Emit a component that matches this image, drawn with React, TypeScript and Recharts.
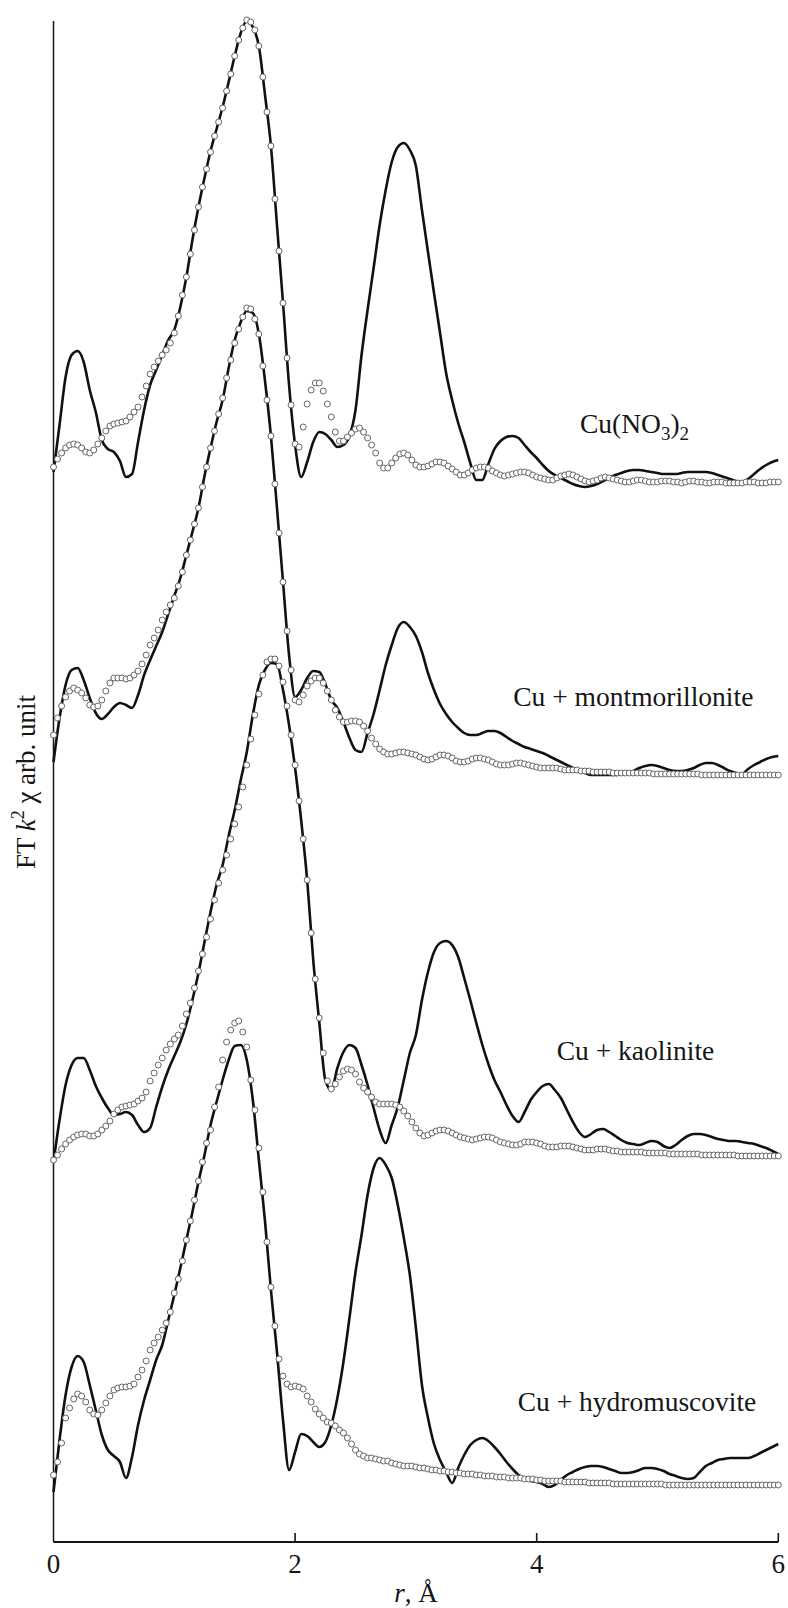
import React from 'react';
import { LineChart, Line, XAxis, YAxis, ReferenceLine, ReferenceDot } from 'recharts';

const FONT = '"Liberation Serif", "Times New Roman", serif';
const INK = '#161616';

// r, Å sampling grid of the measured curves (solid lines)
const R = [
  0, 0.05, 0.1, 0.15, 0.2, 0.25, 0.3, 0.35, 0.4, 0.45,
  0.5, 0.55, 0.6, 0.65, 0.7, 0.75, 0.8, 0.85, 0.9, 0.95,
  1, 1.05, 1.1, 1.15, 1.2, 1.25, 1.3, 1.35, 1.4, 1.45,
  1.5, 1.55, 1.6, 1.65, 1.7, 1.75, 1.8, 1.85, 1.9, 1.95,
  2, 2.05, 2.1, 2.15, 2.2, 2.25, 2.3, 2.35, 2.4, 2.45,
  2.5, 2.55, 2.6, 2.65, 2.7, 2.75, 2.8, 2.85, 2.9, 2.95,
  3, 3.05, 3.1, 3.15, 3.2, 3.25, 3.3, 3.35, 3.4, 3.45,
  3.5, 3.55, 3.6, 3.65, 3.7, 3.75, 3.8, 3.85, 3.9, 3.95,
  4, 4.05, 4.1, 4.15, 4.2, 4.25, 4.3, 4.35, 4.4, 4.45,
  4.5, 4.55, 4.6, 4.65, 4.7, 4.75, 4.8, 4.85, 4.9, 4.95,
  5, 5.05, 5.1, 5.15, 5.2, 5.25, 5.3, 5.35, 5.4, 5.45,
  5.5, 5.55, 5.6, 5.65, 5.7, 5.75, 5.8, 5.85, 5.9, 5.95,
  6,
];

// r, Å grid of the fitted curves (open circles)
const R_FIT = [
  0, 0.033, 0.067, 0.1, 0.133, 0.167, 0.2, 0.233, 0.267, 0.3, 0.333, 0.367, 0.4, 0.433, 0.467,
  0.5, 0.533, 0.567, 0.6, 0.633, 0.667, 0.7, 0.733, 0.767, 0.8, 0.833, 0.867, 0.9, 0.933, 0.967,
  1, 1.033, 1.067, 1.1, 1.133, 1.167, 1.2, 1.233, 1.267, 1.3, 1.333, 1.367, 1.4, 1.433, 1.467,
  1.5, 1.533, 1.567, 1.6, 1.633, 1.667, 1.7, 1.733, 1.767, 1.8, 1.833, 1.867, 1.9, 1.933, 1.967,
  2, 2.033, 2.067, 2.1, 2.133, 2.167, 2.2, 2.233, 2.267, 2.3, 2.333, 2.367, 2.4, 2.433, 2.467,
  2.5, 2.533, 2.567, 2.6, 2.633, 2.667, 2.7, 2.733, 2.767, 2.8, 2.833, 2.867, 2.9, 2.933, 2.967,
  3, 3.033, 3.067, 3.1, 3.133, 3.167, 3.2, 3.233, 3.267, 3.3, 3.333, 3.367, 3.4, 3.433, 3.467,
  3.5, 3.533, 3.567, 3.6, 3.633, 3.667, 3.7, 3.733, 3.767, 3.8, 3.833, 3.867, 3.9, 3.933, 3.967,
  4, 4.033, 4.067, 4.1, 4.133, 4.167, 4.2, 4.233, 4.267, 4.3, 4.333, 4.367, 4.4, 4.433, 4.467,
  4.5, 4.533, 4.567, 4.6, 4.633, 4.667, 4.7, 4.733, 4.767, 4.8, 4.833, 4.867, 4.9, 4.933, 4.967,
  5, 5.033, 5.067, 5.1, 5.133, 5.167, 5.2, 5.233, 5.267, 5.3, 5.333, 5.367, 5.4, 5.433, 5.467,
  5.5, 5.533, 5.567, 5.6, 5.633, 5.667, 5.7, 5.733, 5.767, 5.8, 5.833, 5.867, 5.9, 5.933, 5.967,
  6,
];

// Cu(NO3)2 — experiment (solid) and fit (circles), stacked arb. units
const S1 = [
  1070, 1117, 1165, 1187, 1191, 1180, 1152, 1130, 1102, 1093,
  1090, 1081, 1065, 1068, 1100, 1132, 1157, 1172, 1187, 1202,
  1212, 1235, 1265, 1302, 1335, 1364, 1391, 1413, 1435, 1460,
  1486, 1509, 1521, 1515, 1496, 1448, 1396, 1317, 1239, 1157,
  1097, 1065, 1080, 1100, 1110, 1108, 1102, 1095, 1097, 1106,
  1132, 1187, 1232, 1274, 1317, 1352, 1380, 1395, 1399, 1392,
  1376, 1332, 1290, 1249, 1209, 1169, 1142, 1119, 1100, 1079,
  1062, 1062, 1078, 1093, 1101, 1105, 1106, 1104, 1097, 1090,
  1084, 1077, 1071, 1067, 1064, 1061, 1058, 1056, 1055, 1056,
  1058, 1061, 1064, 1067, 1069, 1071, 1072, 1072, 1071, 1070,
  1069, 1068, 1068, 1068, 1069, 1070, 1070, 1070, 1070, 1069,
  1067, 1065, 1063, 1061, 1060, 1063, 1068, 1073, 1077, 1080,
  1082,
];
const F1 = [
  1075, 1083, 1089, 1094, 1097, 1098, 1097, 1094, 1090, 1089, 1092, 1098, 1104, 1111, 1116,
  1118, 1119, 1120, 1121, 1125, 1130, 1135, 1145, 1156, 1168, 1175, 1181, 1187, 1192, 1199,
  1209, 1226, 1247, 1265, 1288, 1312, 1335, 1355, 1373, 1390, 1406, 1420, 1434, 1451, 1468,
  1486, 1502, 1514, 1522, 1520, 1512, 1496, 1465, 1430, 1396, 1343, 1291, 1239, 1184, 1137,
  1098, 1095, 1115, 1138, 1152, 1159, 1159, 1151, 1138, 1125, 1110, 1101, 1101, 1105, 1109,
  1113, 1114, 1110, 1104, 1097, 1089, 1079, 1074, 1074, 1079, 1084, 1088, 1089, 1087, 1082,
  1077, 1075, 1075, 1076, 1078, 1080, 1080, 1079, 1076, 1073, 1070, 1067, 1067, 1069, 1072,
  1074, 1075, 1075, 1074, 1071, 1069, 1067, 1066, 1067, 1068, 1069, 1070, 1070, 1069, 1067,
  1065, 1064, 1063, 1062, 1062, 1064, 1066, 1067, 1068, 1067, 1065, 1063, 1061, 1060, 1061,
  1062, 1064, 1065, 1064, 1063, 1062, 1061, 1060, 1060, 1061, 1062, 1062, 1061, 1060, 1060,
  1060, 1061, 1061, 1061, 1060, 1060, 1059, 1060, 1061, 1061, 1060, 1060, 1059, 1059, 1060,
  1060, 1060, 1059, 1059, 1059, 1059, 1059, 1060, 1060, 1060, 1059, 1059, 1059, 1060, 1060,
  1060,
];

// Cu + montmorillonite
const S2 = [
  780, 824, 857, 872, 874, 862, 844, 829, 823, 828,
  835, 839, 837, 834, 847, 867, 882, 896, 910, 928,
  946, 964, 987, 1010, 1034, 1066, 1094, 1120, 1142, 1174,
  1202, 1220, 1231, 1229, 1208, 1162, 1106, 1034, 960, 887,
  845, 852, 864, 871, 870, 858, 842, 834, 820, 804,
  792, 790, 809, 828, 852, 877, 897, 914, 920, 915,
  906, 890, 869, 852, 838, 828, 820, 814, 809, 807,
  807, 809, 811, 811, 809, 805, 801, 798, 795, 793,
  791, 789, 786, 783, 780, 777, 774, 771, 769, 767,
  767, 767, 767, 767, 768, 769, 771, 774, 776, 777,
  776, 774, 772, 771, 771, 772, 774, 777, 779, 779,
  777, 774, 771, 769, 768, 773, 777, 780, 783, 785,
  786,
];
const F2 = [
  807, 824, 836, 845, 851, 854, 852, 849, 844, 837, 835, 836, 842, 851, 859,
  864, 864, 864, 863, 864, 867, 871, 878, 887, 897, 904, 912, 922, 930, 937,
  944, 956, 970, 987, 1002, 1018, 1034, 1055, 1075, 1094, 1111, 1128, 1144, 1164, 1182,
  1199, 1213, 1225, 1234, 1233, 1223, 1208, 1176, 1142, 1106, 1058, 1009, 960, 911, 872,
  842, 840, 847, 856, 861, 864, 864, 859, 851, 842, 832, 825, 820, 820, 821,
  821, 820, 816, 811, 804, 798, 793, 790, 788, 788, 789, 790, 790, 789, 788,
  787, 785, 783, 782, 783, 785, 787, 787, 786, 784, 781, 780, 780, 781, 783,
  784, 784, 783, 782, 780, 778, 777, 777, 777, 778, 779, 779, 778, 777, 776,
  775, 774, 774, 774, 774, 774, 773, 772, 772, 772, 772, 771, 771, 771, 770,
  770, 770, 770, 770, 769, 769, 769, 769, 769, 769, 769, 769, 769, 769, 768,
  768, 768, 768, 768, 768, 768, 768, 768, 768, 768, 768, 767, 767, 767, 767,
  767, 767, 767, 767, 767, 767, 767, 767, 767, 767, 767, 767, 767, 767, 767,
  767,
];

// Cu + kaolinite
const S3 = [
  380, 422, 457, 477, 484, 484, 472, 456, 444, 434,
  427, 428, 430, 427, 417, 410, 414, 435, 455, 472,
  486, 500, 518, 542, 569, 600, 630, 657, 677, 706,
  732, 762, 790, 827, 857, 872, 879, 878, 852, 817,
  774, 722, 662, 582, 520, 462, 452, 474, 490, 497,
  494, 477, 457, 434, 412, 399, 417, 435, 462, 489,
  507, 542, 570, 590, 599, 601, 597, 585, 564, 542,
  519, 497, 478, 462, 450, 437, 426, 420, 430, 442,
  450, 456, 458, 452, 444, 432, 420, 410, 405, 408,
  412, 413, 410, 406, 402, 399, 398, 397, 399, 401,
  400, 396, 394, 397, 402, 406, 408, 408, 407, 405,
  403, 402, 401, 401, 400, 399, 398, 396, 394, 391,
  388,
];
const F3 = [
  382, 387, 393, 398, 402, 405, 407, 408, 408, 406, 406, 408, 412, 416, 421,
  428, 432, 435, 436, 437, 438, 441, 444, 450, 461, 469, 477, 484, 492, 498,
  503, 507, 516, 528, 539, 554, 571, 588, 605, 623, 642, 659, 672, 687, 703,
  718, 735, 755, 777, 803, 827, 848, 867, 880, 883, 883, 876, 860, 836, 807,
  777, 741, 703, 662, 609, 563, 524, 489, 461, 453, 458, 465, 471, 473, 472,
  468, 460, 454, 450, 445, 440, 438, 438, 438, 438, 437, 435, 431, 426, 420,
  414, 409, 406, 407, 409, 411, 412, 412, 411, 409, 407, 405, 404, 403, 402,
  403, 404, 405, 405, 404, 402, 400, 399, 398, 397, 397, 398, 400, 400, 400,
  399, 398, 396, 395, 395, 395, 396, 396, 396, 395, 394, 393, 392, 392, 392,
  393, 393, 393, 392, 391, 391, 390, 390, 390, 390, 390, 390, 389, 389, 389,
  389, 389, 389, 388, 388, 388, 388, 388, 388, 388, 388, 387, 387, 387, 387,
  387, 387, 387, 387, 387, 386, 386, 386, 386, 386, 386, 386, 386, 386, 386,
  386,
];

// Cu + hydromuscovite
const S4 = [
  50, 102, 147, 175, 186, 180, 157, 132, 107, 92,
  86, 80, 64, 85, 117, 142, 162, 182, 197, 222,
  247, 274, 302, 330, 360, 387, 417, 440, 462, 482,
  496, 497, 482, 442, 382, 322, 252, 190, 122, 72,
  90, 108, 106, 100, 95, 100, 117, 144, 180, 224,
  270, 307, 347, 374, 384, 377, 364, 337, 304, 267,
  214, 157, 124, 98, 82, 70, 59, 74, 87, 97,
  102, 104, 101, 95, 88, 80, 73, 67, 63, 61,
  60, 58, 55, 57, 62, 67, 70, 73, 75, 76,
  76, 75, 73, 71, 69, 69, 70, 72, 74, 74,
  73, 71, 68, 66, 64, 63, 64, 70, 76, 79,
  82, 83, 84, 84, 84, 84, 86, 89, 92, 95,
  98,
];
const F4 = [
  67, 80, 99, 124, 134, 143, 148, 146, 140, 132, 128, 127, 132, 139, 146,
  152, 154, 155, 155, 156, 158, 165, 172, 181, 192, 199, 205, 212, 219, 230,
  249, 263, 281, 302, 321, 342, 361, 380, 399, 412, 435, 455, 482, 500, 512,
  519, 521, 510, 495, 462, 432, 394, 350, 300, 255, 216, 183, 166, 158, 155,
  156, 155, 153, 146, 140, 133, 128, 124, 120, 119, 116, 112, 109, 104, 98,
  92, 88, 86, 84, 84, 83, 82, 81, 81, 79, 78, 77, 76, 76, 76,
  75, 74, 74, 73, 72, 72, 71, 71, 70, 70, 69, 69, 68, 68, 68,
  67, 67, 66, 66, 66, 65, 65, 65, 64, 64, 64, 64, 63, 63, 63,
  62, 62, 61, 61, 61, 61, 61, 60, 60, 60, 60, 60, 60, 59, 59,
  59, 59, 59, 59, 58, 58, 58, 58, 58, 58, 58, 58, 58, 58, 58,
  58, 58, 57, 57, 57, 57, 57, 57, 57, 57, 57, 57, 57, 57, 57,
  57, 57, 57, 57, 57, 57, 57, 57, 57, 57, 57, 57, 57, 57, 57,
  57,
];

const X_TICKS = [0, 2, 4, 6];
const LABEL_TEXT = ['Cu(NO3)2', 'Cu + montmorillonite', 'Cu + kaolinite', 'Cu + hydromuscovite'];
const LABEL_R = [4.358, 3.806, 4.166, 3.843];
const LABEL_V = [1109, 836, 482, 131];
const Y_MAX = 1530;
const Y_AXIS_TOP = 1521;

const SOLID_KEYS = ['s1', 's2', 's3', 's4'];
const FIT_KEYS = ['f1', 'f2', 'f3', 'f4'];

const rows = R.map((r, i) => ({ r, s1: S1[i], s2: S2[i], s3: S3[i], s4: S4[i] }));
const fitRows = R_FIT.map((r, i) => ({ r, f1: F1[i], f2: F2[i], f3: F3[i], f4: F4[i] }));

const renderFormula = (text: string) => {
  const parts = text.split(/(\d)/).filter((p) => p !== '');
  return parts.map((part, i) => {
    const isDigit = /\d/.test(part);
    const prevDigit = i > 0 && /\d/.test(parts[i - 1]);
    if (isDigit) {
      return (
        <tspan key={i} dy={prevDigit ? 0 : 7} fontSize={19}>{part}</tspan>
      );
    }
    return (
      <tspan key={i} dy={prevDigit ? -7 : 0}>{part}</tspan>
    );
  });
};

const XTick = (props: any) => {
  const { x, y, payload } = props;
  return (
    <g>
      {payload.value !== 0 && (
        <line x1={x} y1={y} x2={x} y2={y - 9} stroke={INK} strokeWidth={1.6} />
      )}
      <text x={x} y={y + 31} textAnchor="middle" fontFamily={FONT} fontSize={27} fill={INK}>
        {payload.value}
      </text>
    </g>
  );
};

const XLabel = (props: any) => {
  const vb = props.viewBox || {};
  return (
    <text x={vb.x + vb.width / 2} y={vb.y + 60} textAnchor="middle" fontFamily={FONT} fontSize={27} fill={INK}>
      <tspan fontStyle="italic">r</tspan>, Å
    </text>
  );
};

const YLabel = (props: any) => {
  const vb = props.viewBox || {};
  const cx = vb.x + 35;
  const cy = vb.y + 770;
  return (
    <text
      x={cx}
      y={cy}
      transform={`rotate(-90, ${cx}, ${cy})`}
      textAnchor="middle"
      fontFamily={FONT}
      fontSize={27}
      fill={INK}
    >
      FT{' '}
      <tspan fontStyle="italic">k</tspan>
      <tspan dy={-11} fontSize={18}>2</tspan>
      <tspan dy={11}> χ arb. unit</tspan>
    </text>
  );
};

const makeCurveLabel = (text: string) => (props: any) => {
  const vb = props.viewBox || {};
  return (
    <text x={vb.x} y={vb.y} fontFamily={FONT} fontSize={27.5} fill={INK}>
      {renderFormula(text)}
    </text>
  );
};

export default function App() {
  return (
    <div style={{ position: 'absolute', left: 0, top: 0, width: 788, height: 1608, background: '#fff' }}>
      <LineChart
        width={788}
        height={1608}
        data={rows}
        margin={{ top: 12, right: 9.7, bottom: 36, left: 0 }}
      >
        <XAxis
          type="number"
          dataKey="r"
          domain={[0, 6]}
          ticks={X_TICKS}
          height={30}
          tickSize={0}
          tickMargin={0}
          tickLine={false}
          axisLine={{ stroke: INK, strokeWidth: 1.8 }}
          tick={<XTick />}
          label={<XLabel />}
          interval={0}
        />
        <YAxis
          type="number"
          domain={[0, Y_MAX]}
          width={53.5}
          axisLine={false}
          tickLine={false}
          tick={false}
          label={<YLabel />}
        />
        <ReferenceLine
          segment={[{ x: 0, y: 0 }, { x: 0, y: Y_AXIS_TOP }]}
          stroke={INK}
          strokeWidth={1.5}
          ifOverflow="visible"
        />
        {SOLID_KEYS.map((k) => (
          <Line
            key={k}
            dataKey={k}
            type="monotone"
            stroke="#111"
            strokeWidth={2.6}
            dot={false}
            activeDot={false}
            isAnimationActive={false}
          />
        ))}
        {FIT_KEYS.map((k) => (
          <Line
            key={k}
            data={fitRows}
            dataKey={k}
            type="linear"
            stroke="none"
            dot={{ r: 3, fill: '#fff', stroke: '#666', strokeWidth: 1 }}
            activeDot={false}
            isAnimationActive={false}
          />
        ))}
        {LABEL_TEXT.map((t, i) => (
          <ReferenceDot
            key={t}
            x={LABEL_R[i]}
            y={LABEL_V[i]}
            r={0}
            fill="none"
            stroke="none"
            ifOverflow="visible"
            label={makeCurveLabel(t)}
          />
        ))}
      </LineChart>
    </div>
  );
}
